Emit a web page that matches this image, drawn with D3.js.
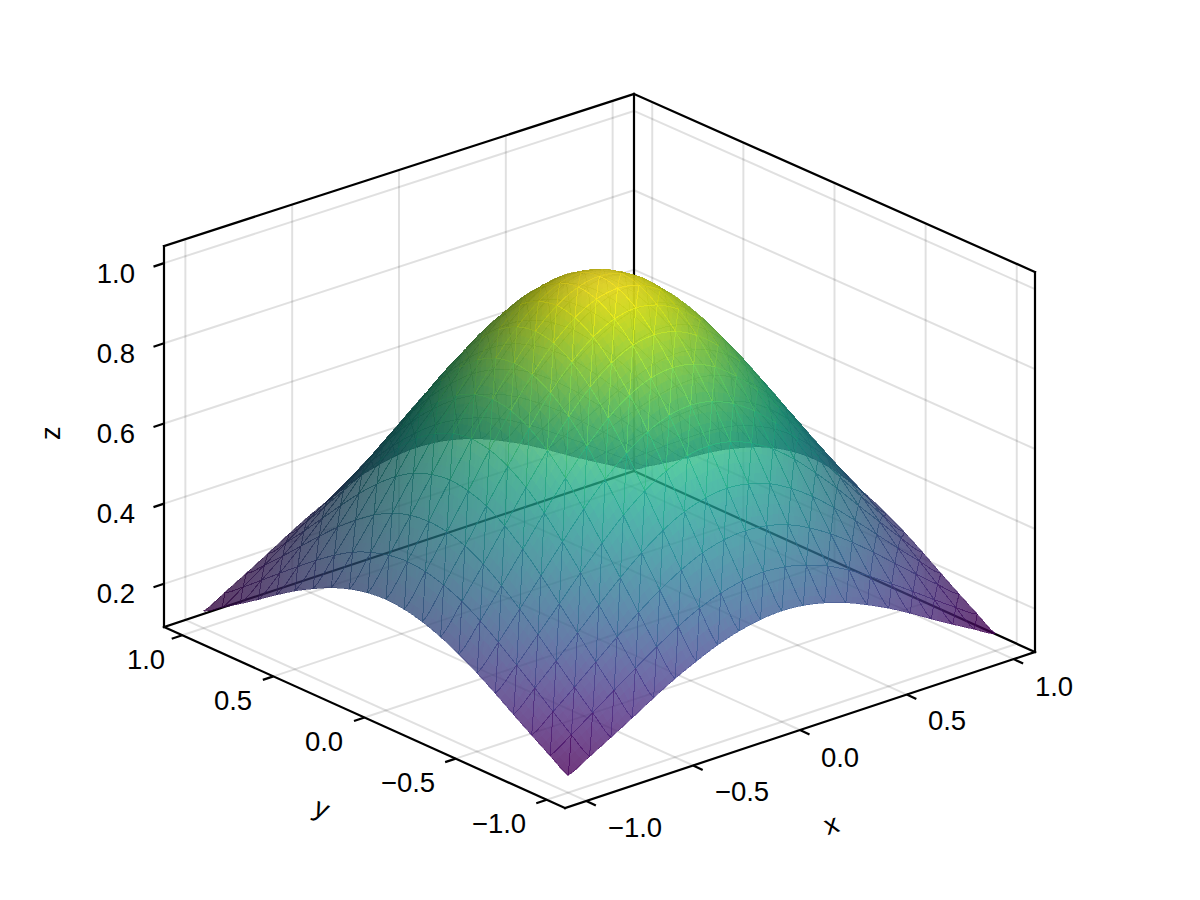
<!DOCTYPE html>
<html><head><meta charset="utf-8">
<script src="https://cdn.jsdelivr.net/npm/d3@7/dist/d3.min.js"></script>
<style>html,body{margin:0;background:#fff}svg{display:block}text{font-family:"Liberation Sans",Arial,sans-serif;fill:#000}</style>
</head><body><svg id="c" width="1200" height="900"></svg>
<script>
const gridX=[-1,-.9,-.8,-.7,-.6,-.5,-.4,-.3,-.2,-.1,0,.1,.2,.3,.4,.5,.6,.7,.8,.9,1];
const gridY=[-1,-.9,-.8,-.7,-.6,-.5,-.4,-.3,-.2,-.1,0,.1,.2,.3,.4,.5,.6,.7,.8,.9,1];
// z read per row (y from -1 to 1), column x from -1 to 1
const zRows=[
[.135,.164,.194,.225,.257,.287,.313,.336,.353,.364,.368,.364,.353,.336,.313,.287,.257,.225,.194,.164,.135],
[.164,.198,.235,.273,.310,.346,.379,.407,.427,.440,.445,.440,.427,.407,.379,.346,.310,.273,.235,.198,.164],
[.194,.235,.278,.323,.368,.411,.449,.482,.507,.522,.527,.522,.507,.482,.449,.411,.368,.323,.278,.235,.194],
[.225,.273,.323,.375,.427,.477,.522,.560,.589,.606,.613,.606,.589,.560,.522,.477,.427,.375,.323,.273,.225],
[.257,.310,.368,.427,.487,.543,.595,.638,.670,.691,.698,.691,.670,.638,.595,.543,.487,.427,.368,.310,.257],
[.287,.346,.411,.477,.543,.607,.664,.712,.748,.771,.779,.771,.748,.712,.664,.607,.543,.477,.411,.346,.287],
[.313,.379,.449,.522,.595,.664,.726,.779,.819,.844,.852,.844,.819,.779,.726,.664,.595,.522,.449,.379,.313],
[.336,.407,.482,.560,.638,.712,.779,.835,.878,.905,.914,.905,.878,.835,.779,.712,.638,.560,.482,.407,.336],
[.353,.427,.507,.589,.670,.748,.819,.878,.923,.951,.961,.951,.923,.878,.819,.748,.670,.589,.507,.427,.353],
[.364,.440,.522,.606,.691,.771,.844,.905,.951,.980,.990,.980,.951,.905,.844,.771,.691,.606,.522,.440,.364],
[.368,.445,.527,.613,.698,.779,.852,.914,.961,.990,1.00,.990,.961,.914,.852,.779,.698,.613,.527,.445,.368],
[.364,.440,.522,.606,.691,.771,.844,.905,.951,.980,.990,.980,.951,.905,.844,.771,.691,.606,.522,.440,.364],
[.353,.427,.507,.589,.670,.748,.819,.878,.923,.951,.961,.951,.923,.878,.819,.748,.670,.589,.507,.427,.353],
[.336,.407,.482,.560,.638,.712,.779,.835,.878,.905,.914,.905,.878,.835,.779,.712,.638,.560,.482,.407,.336],
[.313,.379,.449,.522,.595,.664,.726,.779,.819,.844,.852,.844,.819,.779,.726,.664,.595,.522,.449,.379,.313],
[.287,.346,.411,.477,.543,.607,.664,.712,.748,.771,.779,.771,.748,.712,.664,.607,.543,.477,.411,.346,.287],
[.257,.310,.368,.427,.487,.543,.595,.638,.670,.691,.698,.691,.670,.638,.595,.543,.487,.427,.368,.310,.257],
[.225,.273,.323,.375,.427,.477,.522,.560,.589,.606,.613,.606,.589,.560,.522,.477,.427,.375,.323,.273,.225],
[.194,.235,.278,.323,.368,.411,.449,.482,.507,.522,.527,.522,.507,.482,.449,.411,.368,.323,.278,.235,.194],
[.164,.198,.235,.273,.310,.346,.379,.407,.427,.440,.445,.440,.427,.407,.379,.346,.310,.273,.235,.198,.164],
[.135,.164,.194,.225,.257,.287,.313,.336,.353,.364,.368,.364,.353,.336,.313,.287,.257,.225,.194,.164,.135]];
const xTicks=[-1,-.5,0,.5,1], yTicks=[-1,-.5,0,.5,1], zTicks=[.2,.4,.6,.8,1];
const fmt=v=>d3.format(".1f")(v).replace("-","\u2212");
const svg=d3.select("#c");
const zExt=d3.extent(zRows.flat());
const xDom=[-1.1,1.1], yDom=[-1.1,1.1], zDom=[.0923,1.0427];
const F=[565,808],L=[164,627],R=[1035,652];
const sx=d3.scaleLinear().domain(xDom).range([0,1]);
const sy=d3.scaleLinear().domain(yDom).range([1,0]);
const sz=d3.scaleLinear().domain(zDom).range([0,1]);
// slight perspective: the box is a little taller at the front corner than at the back one
const P=(x,y,z)=>{const a=sx(x),b=1-sy(y),h=sz(z)*(384-4*a-3*b);
  return [F[0]+a*(R[0]-F[0])+b*(L[0]-F[0]), F[1]+a*(R[1]-F[1])+b*(L[1]-F[1])-h];};
const line=(g,a,b,st,w)=>g.append("line").attr("x1",a[0]).attr("y1",a[1]).attr("x2",b[0]).attr("y2",b[1]).attr("stroke",st).attr("stroke-width",w);
const [x0,x1]=xDom,[y0,y1]=yDom,[z0,z1]=zDom;
const gg=svg.append("g"); const GC="rgba(0,0,0,0.12)",GW=2;
xTicks.forEach(t=>{line(gg,P(t,y0,z0),P(t,y1,z0),GC,GW);line(gg,P(t,y1,z0),P(t,y1,z1),GC,GW);});
yTicks.forEach(t=>{line(gg,P(x0,t,z0),P(x1,t,z0),GC,GW);line(gg,P(x1,t,z0),P(x1,t,z1),GC,GW);});
zTicks.forEach(t=>{line(gg,P(x0,y1,t),P(x1,y1,t),GC,GW);line(gg,P(x1,y1,t),P(x1,y0,t),GC,GW);});
const sg=svg.append("g").attr("stroke-linecap","square");
[[[x0,y0,z0],[x1,y0,z0]],[[x0,y0,z0],[x0,y1,z0]],[[x0,y1,z0],[x1,y1,z0]],[[x1,y1,z0],[x1,y0,z0]],
 [[x0,y1,z0],[x0,y1,z1]],[[x1,y1,z0],[x1,y1,z1]],[[x1,y0,z0],[x1,y0,z1]],
 [[x0,y1,z1],[x1,y1,z1]],[[x1,y1,z1],[x1,y0,z1]]].forEach(([a,b])=>line(sg,P(...a),P(...b),"#000",2.2));
const tg=svg.append("g");
xTicks.forEach(t=>{const p=P(t,y0,z0);line(tg,p,[p[0]+9.5,p[1]+4.5],"#000",2.2);});
yTicks.forEach(t=>{const p=P(x0,t,z0);line(tg,p,[p[0]-10.5,p[1]+3.5],"#000",2.2);});
zTicks.forEach(t=>{const p=P(x0,y1,t);line(tg,p,[p[0]-10.5,p[1]+3.5],"#000",2.2);});
// surface
const color=d3.scaleSequential(d3.interpolateViridis).domain(zExt);
const wx=1/2.2, wz=(2/3)/(zDom[1]-zDom[0]);
const V=[-.600,-.703,.383], RT=[.76,-.65,0];
const Lt=(()=>{const v=[0,1,2].map(k=>V[k]*.75+RT[k]*.3+(k==2?.6:0));const n=Math.hypot(...v);return v.map(d=>d/n);})();
const AMB=.38,DIF=.7,ALPHA=.78;
const nI=gridX.length,nJ=gridY.length;
const normal=(i,j)=>{const il=Math.max(i-1,0),ih=Math.min(i+1,nI-1),jl=Math.max(j-1,0),jh=Math.min(j+1,nJ-1);
  const dx=(zRows[j][ih]-zRows[j][il])/(gridX[ih]-gridX[il]),dy=(zRows[jh][i]-zRows[jl][i])/(gridY[jh]-gridY[jl]);
  const n=[-dx*wz/wx,-dy*wz/wx,1],m=Math.hypot(...n);return n.map(d=>d/m);};
// Smooth drawing between the read grid nodes (Catmull-Rom through the table values)
const cr=(a,b,c,d,t)=>.5*(2*b+(c-a)*t+(2*a-5*b+4*c-d)*t*t+(3*b-a-3*c+d)*t*t*t);
const ix=d3.scaleLinear().domain(d3.extent(gridX)).range([0,nI-1]);
const iy=d3.scaleLinear().domain(d3.extent(gridY)).range([0,nJ-1]);
const zAt=(x,y)=>{const u=ix(x),v=iy(y),i=Math.min(Math.floor(u),nI-2),j=Math.min(Math.floor(v),nJ-2),fu=u-i,fv=v-j;
  const row=jj=>{const r=zRows[Math.max(0,Math.min(nJ-1,jj))],g=k=>r[Math.max(0,Math.min(nI-1,k))];
    return cr(g(i-1),g(i),g(i+1),g(i+2),fu);};
  return cr(row(j-1),row(j),row(j+1),row(j+2),fv);};
const vert=(i,j)=>({x:gridX[i],y:gridY[j],z:zRows[j][i],n:normal(i,j)});
const tris=[];
for(let j=0;j<nJ-1;j++)for(let i=0;i<nI-1;i++){
  const a=vert(i,j),b=vert(i+1,j),c=vert(i+1,j+1),d=vert(i,j+1);
  tris.push([a,b,c],[a,c,d]);
}
const depth=v=>v.x*wx*.6+v.y*wx*.703-v.z*wz*.383;
tris.forEach(t=>t.d=d3.mean(t,depth));
tris.sort((p,q)=>q.d-p.d);
const mix=(p,q,r,u,v,w)=>{const x=p.x*u+q.x*v+r.x*w,y=p.y*u+q.y*v+r.y*w;
  return {x,y,z:zAt(x,y),n:[0,1,2].map(k=>p.n[k]*u+q.n[k]*v+r.n[k]*w)};};
const shadeCol=(v)=>{const m=Math.hypot(...v.n),n=v.n.map(d=>d/m);
  const dot=Math.abs(n[0]*Lt[0]+n[1]*Lt[1]+n[2]*Lt[2]);
  const s=AMB+DIF*dot;const c=d3.rgb(color(v.z));
  return `rgb(${Math.min(255,c.r*s)|0},${Math.min(255,c.g*s)|0},${Math.min(255,c.b*s)|0})`;};
const N=4;
const sf=svg.append("g");
const pStr=o=>P(o.x,o.y,o.z).map(d=>d.toFixed(2)).join(",");
tris.forEach(t=>{const [p,q,r]=t;
  const g=sf.append("g");
  const subs=[];
  for(let a=0;a<N;a++)for(let b=0;b<N-a;b++){
    const c=N-a-b;
    const A=[a,b,c],Bb=[a+1,b,c-1],Cc=[a,b+1,c-1];
    subs.push([A,Bb,Cc]);
    if(c>=2)subs.push([Bb,[a+1,b+1,c-2],Cc]);
  }
  subs.forEach(s=>{const pts=s.map(w=>mix(p,q,r,w[0]/N,w[1]/N,w[2]/N));
    const cen=mix(pts[0],pts[1],pts[2],1/3,1/3,1/3);
    g.append("path").attr("d","M"+pts.map(pStr).join("L")+"Z")
      .attr("fill",shadeCol(cen)).attr("fill-opacity",ALPHA).attr("shape-rendering","crispEdges");});
  [[p,q],[q,r],[r,p]].forEach(([u,v])=>{
    const pts=d3.range(N+1).map(k=>mix(u,v,v,1-k/N,k/N,0));
    g.append("path").attr("d","M"+pts.map(pStr).join("L")).attr("fill","none")
      .attr("stroke",shadeCol(pts[2])).attr("stroke-width",1).attr("stroke-opacity",.5)
      .attr("shape-rendering","crispEdges");});
});
const FS=27.5;
const tl=svg.append("g").attr("font-size",FS).attr("text-anchor","middle").attr("dominant-baseline","central");
const xLab=[[1054,686],[947,720],[840,757],[742,791],[635,827]].reverse();
const yLab=[[499,823],[408,782],[324,741],[233,700],[146,659]];
xTicks.forEach((t,i)=>tl.append("text").attr("x",xLab[i][0]).attr("y",xLab[i][1]).text(fmt(t)));
yTicks.forEach((t,i)=>tl.append("text").attr("x",yLab[i][0]).attr("y",yLab[i][1]).text(fmt(t)));
zTicks.forEach(t=>{const p=P(x0,y1,t);tl.append("text").attr("x",135).attr("y",p[1]+10).attr("text-anchor","end").text(fmt(t));});
const al=svg.append("g").attr("font-size",FS).attr("text-anchor","middle").attr("dominant-baseline","central");
al.append("text").attr("transform","translate(831,824) rotate(-18)").text("x");
al.append("text").attr("transform","translate(322,808) rotate(24)").text("y");
al.append("text").attr("transform","translate(50,433) rotate(-90)").text("z");
</script></body></html>
